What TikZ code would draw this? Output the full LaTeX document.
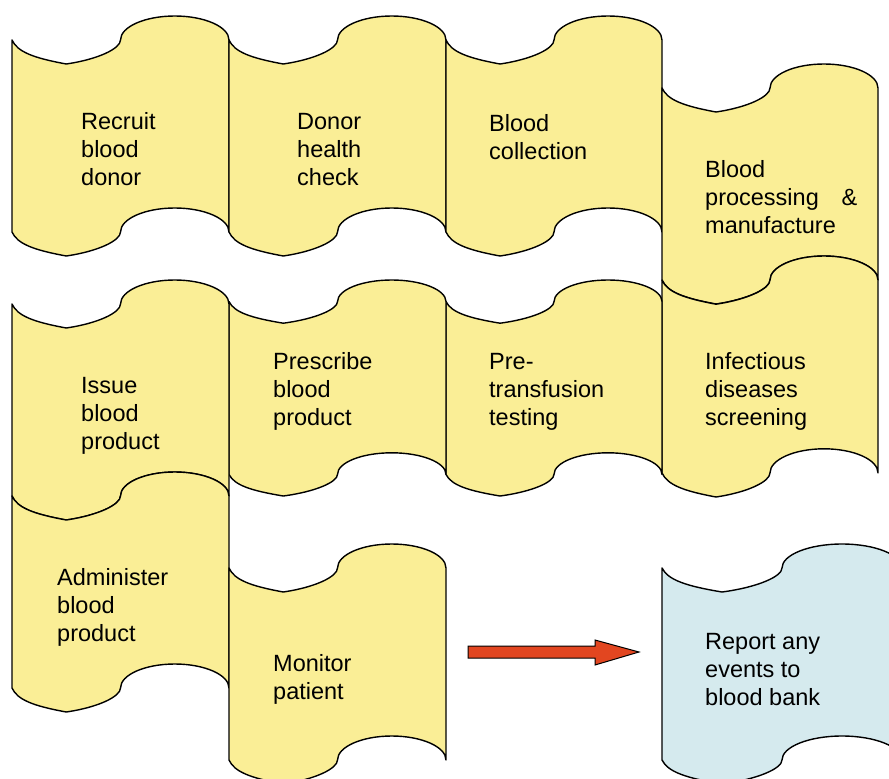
\documentclass[tikz,border=0pt]{standalone}
\usepackage{fontspec}
\setmainfont{Liberation Sans}
\definecolor{tapeyellow}{RGB}{250,238,150}
\definecolor{tapeblue}{RGB}{213,234,238}
\definecolor{arrowred}{RGB}{226,70,32}
\tikzset{
  tapeline/.style={draw=black, line width=1.4pt, line join=round},
  lbl/.style={inner sep=0pt, anchor=base west, font=\fontsize{23.5}{28}\selectfont},
  bigarrow/.style={draw=black, line width=1pt, fill=arrowred, line join=miter}
}
% #1 left x, #2 width, #3 crest y (top), #4 trough y (bottom), #5 fill colour
\newcommand\tapeshape[5]{%
  \pgfmathsetmacro\tA{#1}%
  \pgfmathsetmacro\tR{#2/4}%
  \pgfmathsetmacro\tB{#1+\tR}%
  \pgfmathsetmacro\tC{#1+2*\tR}%
  \pgfmathsetmacro\tD{#1+3*\tR}%
  \pgfmathsetmacro\tE{#1+4*\tR}%
  \pgfmathsetmacro\ta{(#4-#3)/10}%
  \pgfmathsetmacro\tc{#3+\ta}%
  \pgfmathsetmacro\td{#4-\ta}%
  \path[tapeline, fill=#5]
    (\tA,\tc) .. controls (\tA+0.1*\tR,\tc+0.5*\ta) and (\tA+0.4*\tR,\tc+0.75*\ta) .. (\tB,\tc+\ta)
              .. controls (\tB+0.6*\tR,\tc+0.8*\ta) and (\tC,\tc+0.35*\ta) .. (\tC,\tc)
              .. controls (\tC,\tc-0.55*\ta) and (\tD-0.55*\tR,\tc-\ta) .. (\tD,\tc-\ta)
              .. controls (\tD+0.55*\tR,\tc-\ta) and (\tE,\tc-0.55*\ta) .. (\tE,\tc)
    -- (\tE,\td)
              .. controls (\tE,\td-0.55*\ta) and (\tD+0.55*\tR,\td-\ta) .. (\tD,\td-\ta)
              .. controls (\tD-0.55*\tR,\td-\ta) and (\tC,\td-0.55*\ta) .. (\tC,\td)
              .. controls (\tC,\td+0.35*\ta) and (\tB+0.6*\tR,\td+0.8*\ta) .. (\tB,\td+\ta)
              .. controls (\tA+0.4*\tR,\td+0.75*\ta) and (\tA+0.1*\tR,\td+0.5*\ta) .. (\tA,\td)
    -- cycle;%
}
\begin{document}
\begin{tikzpicture}[x=1pt,y=-1pt]
\useasboundingbox (0,0) rectangle (889,779);
\clip (0,0) rectangle (889,779);
% row 1
\tapeshape{12}{217}{16}{256}{tapeyellow}
\tapeshape{229}{217}{16}{256}{tapeyellow}
\tapeshape{446}{216}{16}{256}{tapeyellow}
\tapeshape{662}{216}{64}{304}{tapeyellow}
% row 2
\tapeshape{662}{216}{256}{497}{tapeyellow}
\tapeshape{446}{216}{280}{496}{tapeyellow}
\tapeshape{229}{217}{280}{496}{tapeyellow}
\tapeshape{12}{217}{280}{520}{tapeyellow}
% row 3
\tapeshape{12}{217}{472}{712}{tapeyellow}
\tapeshape{229}{217}{544}{784}{tapeyellow}
\tapeshape{662}{240}{544}{784}{tapeblue}

% labels
\node[lbl] (recruit) at (81,129) {\begin{tabular}[t]{@{}l@{}}Recruit\\blood\\donor\end{tabular}};
\node[lbl] (health) at (297,129) {\begin{tabular}[t]{@{}l@{}}Donor\\health\\check\end{tabular}};
\node[lbl] (collect) at (489,131) {\begin{tabular}[t]{@{}l@{}}Blood\\collection\end{tabular}};
\node[lbl] (process) at (705,177) {\begin{tabular}[t]{@{}l@{}}Blood\\\makebox[152pt][s]{processing\hfill\&}\\manufacture\end{tabular}};
\node[lbl] (screen) at (705,369) {\begin{tabular}[t]{@{}l@{}}Infectious\\diseases\\screening\end{tabular}};
\node[lbl] (pretest) at (489,369) {\begin{tabular}[t]{@{}l@{}}Pre-\\transfusion\\testing\end{tabular}};
\node[lbl] (prescribe) at (273,369) {\begin{tabular}[t]{@{}l@{}}Prescribe\\blood\\product\end{tabular}};
\node[lbl] (issue) at (81,393) {\begin{tabular}[t]{@{}l@{}}Issue\\blood\\product\end{tabular}};
\node[lbl] (admin) at (57,585) {\begin{tabular}[t]{@{}l@{}}Administer\\blood\\product\end{tabular}};
\node[lbl] (monitor) at (273,671) {\begin{tabular}[t]{@{}l@{}}Monitor\\patient\end{tabular}};
\node[lbl] (report) at (705,649) {\begin{tabular}[t]{@{}l@{}}Report any\\events to\\blood bank\end{tabular}};

% arrow
\coordinate (arrtail) at (468,652);
\coordinate (arrtip) at (639,652);
\path[bigarrow] (arrtail) ++(0,-6) -- ++(127,0) -- ++(0,-6) -- (arrtip)
  -- ++(-44,13) -- ++(0,-7) -- ++(-127,0) -- cycle;
\end{tikzpicture}
\end{document}
